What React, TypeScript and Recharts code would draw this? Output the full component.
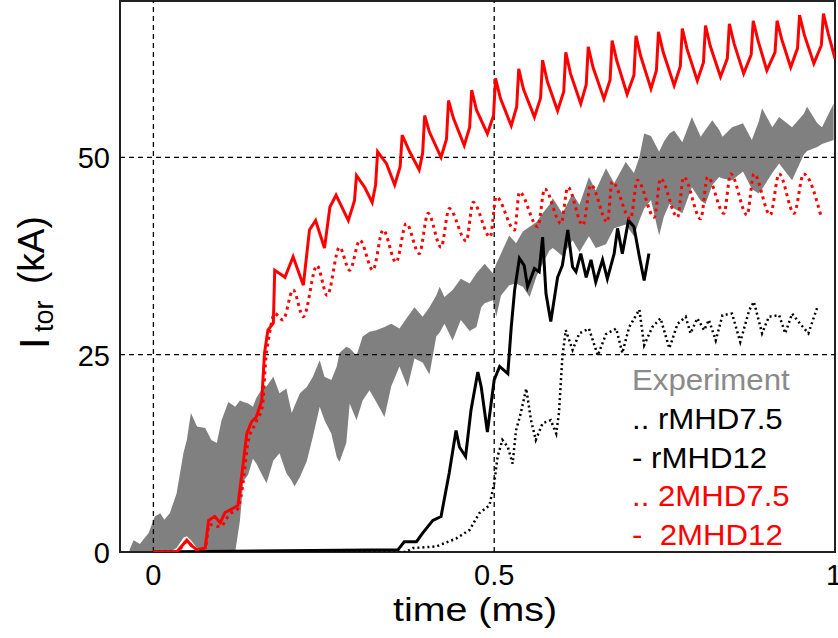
import {
    ComposedChart, Area, Line, XAxis, YAxis, ReferenceLine, ReferenceArea, Legend,
} from "recharts";

const FONT = "'Liberation Sans', Arial, sans-serif";

// experiment band: time, lower and upper edge
const EXP_T = [-0.035, -0.029, -0.02, -0.007, 0.002, 0.01, 0.016, 0.024, 0.034, 0.044, 0.049, 0.055, 0.064, 0.076, 0.085, 0.093, 0.1, 0.11, 0.12, 0.127, 0.132, 0.139, 0.146, 0.151, 0.158, 0.166, 0.176, 0.185, 0.195, 0.203, 0.207, 0.215, 0.225, 0.234, 0.244, 0.251, 0.261, 0.269, 0.273, 0.283, 0.288, 0.298, 0.307, 0.317, 0.327, 0.339, 0.349, 0.361, 0.373, 0.383, 0.395, 0.405, 0.415, 0.42, 0.427, 0.439, 0.451, 0.464, 0.474, 0.481, 0.486, 0.498, 0.503, 0.51, 0.522, 0.532, 0.542, 0.552, 0.562, 0.571, 0.581, 0.586, 0.6, 0.615, 0.625, 0.639, 0.649, 0.664, 0.676, 0.693, 0.705, 0.713, 0.72, 0.73, 0.742, 0.749, 0.757, 0.764, 0.776, 0.79, 0.803, 0.81, 0.82, 0.83, 0.835, 0.849, 0.865, 0.878, 0.888, 0.893, 0.908, 0.918, 0.937, 0.954, 0.959, 0.974, 0.981, 0.998];
const EXP_LOW = [0, 0, 0, 0, 0, 0, 0, 0, 0.5, 1.8, 2.0, 1.5, 0.5, 0, 0, 0, 0, 0, 0, 4, 9, 9.8, 11.8, 11.2, 10, 8.7, 11.6, 12.5, 10, 9, 8.3, 9.5, 11.5, 14.6, 18.4, 16.7, 15, 12, 11.4, 13.8, 18.8, 16.7, 19.2, 20.5, 19, 17.1, 21, 23.5, 20.9, 24.5, 24, 22.5, 27.3, 27.8, 28.9, 26.8, 29.4, 28, 28.5, 31, 31.5, 31.9, 29.8, 32.5, 33.8, 34, 33.6, 32.3, 34.9, 36.5, 38.2, 38.5, 37.5, 39.5, 38, 40, 38.5, 39, 41, 41.5, 40, 42, 43.5, 44.6, 40.1, 42.5, 44.1, 43.5, 42.9, 46.2, 44.5, 44.1, 46.5, 47.5, 47.3, 47.1, 48.2, 46, 45.4, 46, 48, 49.2, 47.1, 50.3, 50.8, 51.3, 51.7, 52.2];
const EXP_HIGH = [0.3, 1.5, 1.0, 2.4, 4.5, 4.9, 4.1, 4.9, 7.4, 12.5, 14.2, 17.6, 15.9, 15.7, 14.2, 13.8, 16.7, 19, 18.4, 19.2, 19.0, 18.8, 18.4, 19.5, 20.5, 21, 22.2, 20.1, 20.7, 17.6, 18.5, 20.1, 20.9, 22.2, 24.3, 22.2, 21.8, 23.5, 25.2, 26, 25.8, 24.9, 27.3, 27.9, 28.1, 28.5, 28.9, 28.3, 29.8, 31, 29.8, 31, 32.5, 33.6, 32.3, 33.2, 34.6, 34, 35.3, 36, 36.5, 35.3, 36.5, 37.8, 40.1, 39.1, 40.6, 41.2, 41.8, 42.9, 44, 44.8, 42.9, 45.4, 44, 47.5, 45.8, 48.6, 46.7, 49.4, 48, 50, 53, 52.7, 50.7, 52, 53, 53.4, 51.9, 55.1, 52.6, 53.5, 54.7, 53.5, 52.6, 53.8, 54.3, 52.2, 54.5, 56.2, 53.8, 55.1, 53.8, 55.5, 56.4, 54.3, 53.8, 56.8];

// [time, Itor] pairs
const RMHD75: [number, number][] = [
    [0, 0], [0.37, 0], [0.381, 0.5], [0.415, 0.7], [0.444, 1.7], [0.464, 2.8], [0.478, 4.9], [0.493, 5.9],
    [0.5, 8.7], [0.505, 12.1], [0.512, 14.2], [0.52, 13.3], [0.527, 11.2], [0.532, 15.4], [0.539, 17.6],
    [0.547, 20.7], [0.554, 16.7], [0.561, 14.2], [0.571, 16.3], [0.583, 16.7], [0.591, 15], [0.595, 17.6],
    [0.6, 24.7], [0.605, 28.1], [0.615, 25.6], [0.625, 27.7], [0.639, 28.3], [0.652, 24.9], [0.664, 27.6],
    [0.679, 28.3], [0.688, 25.2], [0.698, 28.5], [0.713, 30.7], [0.72, 26.2], [0.732, 28.5], [0.744, 29.6],
    [0.757, 25.8], [0.769, 28.9], [0.781, 29.8], [0.788, 27.7], [0.798, 29.6], [0.808, 28.1], [0.815, 29.4],
    [0.825, 26.8], [0.835, 30], [0.849, 30.2], [0.861, 26.6], [0.874, 30.6], [0.881, 31.7], [0.893, 27.7],
    [0.903, 29.8], [0.918, 30], [0.927, 27.7], [0.937, 30.2], [0.949, 28.9], [0.961, 27.7], [0.974, 31],
];

const RMHD12: [number, number][] = [
    [0, 0], [0.359, 0.3], [0.368, 1.3], [0.386, 1.3], [0.395, 2.4], [0.41, 4], [0.422, 4.5], [0.434, 10],
    [0.444, 15.4], [0.449, 13.3], [0.458, 12.1], [0.466, 18], [0.476, 22.8], [0.481, 20.9], [0.49, 15.2],
    [0.5, 21.8], [0.508, 23.5], [0.52, 22.6], [0.525, 28.5], [0.53, 33.2], [0.537, 37.2], [0.544, 36.3],
    [0.549, 33.6], [0.559, 35.9], [0.566, 35.5], [0.571, 39.9], [0.576, 32.7], [0.583, 29.2], [0.593, 34.8],
    [0.6, 36.3], [0.608, 40.8], [0.615, 36.1], [0.62, 35.5], [0.627, 37.8], [0.635, 34.8], [0.642, 37],
    [0.649, 34.2], [0.659, 37], [0.666, 34.6], [0.676, 37.8], [0.681, 41], [0.688, 37.8], [0.697, 42],
    [0.705, 41.2], [0.713, 37.4], [0.72, 34.4], [0.727, 37.8],
];

const MHD2_75: [number, number][] = [
    [0, 0], [0.034, 0], [0.049, 1.3], [0.064, 0.3], [0.076, 0.5], [0.082, 3.5], [0.098, 3.2], [0.112, 4.8],
    [0.124, 5.5], [0.132, 9], [0.139, 14], [0.151, 16.5], [0.16, 18.5], [0.165, 24.5], [0.17, 27.5],
    [0.178, 30.2], [0.19, 29.4], [0.205, 33.2], [0.22, 29.8], [0.24, 36.3], [0.255, 32.5], [0.273, 38.6],
    [0.288, 35.7], [0.303, 39.5], [0.322, 35.7], [0.337, 40.8], [0.356, 36.7], [0.371, 41.6], [0.39, 37.8],
    [0.403, 42.9], [0.422, 38.6], [0.434, 43.5], [0.459, 39.4], [0.469, 44.3], [0.494, 39.9], [0.503, 45],
    [0.53, 40.8], [0.537, 45.6], [0.564, 41.2], [0.574, 46], [0.598, 41.6], [0.608, 46.2], [0.63, 41.4],
    [0.642, 46.5], [0.666, 41.8], [0.673, 46.9], [0.7, 42.2], [0.71, 47.1], [0.735, 42.4], [0.744, 47.3],
    [0.769, 42.4], [0.778, 47.5], [0.803, 42.2], [0.813, 47.5], [0.837, 42.9], [0.847, 47.9], [0.871, 42.7],
    [0.881, 47.9], [0.905, 42.7], [0.918, 47.9], [0.94, 42.9], [0.954, 47.9], [0.979, 42.7],
];

const MHD2_12: [number, number][] = [
    [0, 0], [0.034, 0], [0.042, 0.8], [0.049, 1.5], [0.056, 0.8], [0.064, 0.3], [0.076, 0.5], [0.081, 4.0],
    [0.09, 4.5], [0.098, 3.7], [0.105, 5], [0.112, 5.3], [0.124, 5.9], [0.13, 10], [0.137, 15], [0.144, 16.5],
    [0.151, 17.1], [0.159, 19.2], [0.163, 25.2], [0.168, 28.1], [0.176, 29], [0.178, 35.7], [0.19, 35],
    [0.193, 34.8], [0.205, 37.4], [0.22, 33.8], [0.229, 40.8], [0.238, 42], [0.251, 38.5], [0.259, 43.7],
    [0.268, 45.2], [0.286, 42], [0.295, 44.5], [0.298, 47.7], [0.31, 46.2], [0.321, 44.3], [0.326, 46.5],
    [0.329, 50.7], [0.342, 49.2], [0.354, 46.5], [0.362, 48.8], [0.365, 52.8], [0.376, 50.7], [0.39, 48.4],
    [0.395, 50.5], [0.398, 55.3], [0.405, 53.2], [0.422, 50], [0.43, 52.3], [0.433, 57.2], [0.44, 55],
    [0.456, 51.5], [0.464, 53.8], [0.467, 58.5], [0.474, 56], [0.49, 53], [0.499, 55.3], [0.502, 60],
    [0.509, 57.5], [0.525, 54], [0.533, 56.4], [0.536, 61.2], [0.543, 58.6], [0.559, 55.1], [0.568, 57.5],
    [0.571, 62.3], [0.578, 59.6], [0.593, 55.9], [0.602, 58.3], [0.605, 63.3], [0.612, 60.6], [0.627, 56.8],
    [0.635, 59.2], [0.638, 64], [0.645, 61.4], [0.661, 57.4], [0.67, 59.8], [0.673, 64.8], [0.68, 62.2],
    [0.695, 58], [0.705, 60.4], [0.708, 65.4], [0.715, 62.8], [0.73, 58.7], [0.738, 61], [0.741, 65.9],
    [0.748, 63.3], [0.764, 59.1], [0.773, 61.5], [0.776, 66.3], [0.783, 63.7], [0.798, 59.7], [0.807, 62],
    [0.81, 66.7], [0.817, 64.1], [0.832, 60.2], [0.842, 62.5], [0.845, 66.9], [0.852, 64.4], [0.866, 60.6],
    [0.877, 63], [0.88, 67.3], [0.887, 64.8], [0.9, 61], [0.912, 63.3], [0.915, 67.3], [0.922, 64.9],
    [0.935, 61.4], [0.945, 63.8], [0.948, 68], [0.955, 65.5], [0.969, 61.9], [0.98, 64.2], [0.983, 68.2],
    [0.99, 65.7], [1.0, 62.5],
];

const X_DOMAIN = [-0.049, 1];
const Y_DOMAIN = [0, 69.8];
const X_TICKS = [0, 0.5, 1];
const Y_TICKS = [0, 25, 50];

const LEGEND_ITEMS = [
    { label: "Experiment", color: "#8a8a8a" },
    { label: ".. rMHD7.5", color: "#000" },
    { label: "- rMHD12", color: "#000" },
    { label: ".. 2MHD7.5", color: "#ff0000" },
    { label: "-  2MHD12", color: "#ff0000" },
];

const expData = EXP_T.map((t, i) => ({ t, exp: [EXP_LOW[i], EXP_HIGH[i]] }));
const toRows = (pairs: [number, number][]) => pairs.map(([t, v]) => ({ t, v }));

const XTick = ({ x, payload }: any) => (
    <text x={x} y={585} textAnchor="middle" fontSize={29} fontFamily={FONT} fill="#000">
        {String(payload.value)}
    </text>
);

const YTick = ({ y, payload }: any) => (
    <text x={110} y={y + 11} textAnchor="end" fontSize={29} fontFamily={FONT} fill="#000">
        {String(payload.value)}
    </text>
);

const XLabel = () => (
    <text x={475} y={621} textAnchor="middle" fontSize={34} fontFamily={FONT} fill="#000"
          textLength={164} lengthAdjust="spacingAndGlyphs">
        time (ms)
    </text>
);

const YLabel = () => (
    <g fontFamily={FONT} fill="#000">
        <text x={49} y={349} fontSize={42} transform="rotate(-90 49 349)">I</text>
        <text x={53} y={332} fontSize={27} transform="rotate(-90 53 332)">tor</text>
        <text x={44} y={284} fontSize={37} transform="rotate(-90 44 284)">(kA)</text>
    </g>
);

const LegendBox = () => (
    <div style={{
        fontFamily: FONT, fontSize: 29, lineHeight: "38.75px", whiteSpace: "pre",
        transform: "scale(1.075, 1)", transformOrigin: "left top",
    }}>
        {LEGEND_ITEMS.map((it) => (
            <div key={it.label} style={{ color: it.color }}>{it.label}</div>
        ))}
    </div>
);

export default function App() {
    return (
        <div style={{ position: "absolute", left: 0, top: 0, background: "#fff" }}>
            <ComposedChart width={838} height={638} margin={{ top: 1, right: 3, bottom: 0, left: 0 }}>
                <XAxis
                    dataKey="t"
                    type="number"
                    domain={X_DOMAIN}
                    ticks={X_TICKS}
                    allowDataOverflow
                    height={86}
                    axisLine={false}
                    tickLine={false}
                    tick={<XTick />}
                    label={<XLabel />}
                />
                <YAxis
                    type="number"
                    domain={Y_DOMAIN}
                    ticks={Y_TICKS}
                    allowDataOverflow
                    width={120}
                    axisLine={false}
                    tickLine={false}
                    tick={<YTick />}
                    label={<YLabel />}
                />
                {X_TICKS.slice(0, 2).map((v) => (
                    <ReferenceLine key={"x" + v} x={v} stroke="#000" strokeDasharray="5 4" strokeWidth={1.3} />
                ))}
                {Y_TICKS.slice(1).map((v) => (
                    <ReferenceLine key={"y" + v} y={v} stroke="#000" strokeDasharray="5 4" strokeWidth={1.3} />
                ))}
                <Area data={expData} dataKey="exp" type="linear" fill="#808080" fillOpacity={1}
                      stroke="none" isAnimationActive={false} />
                <Line data={toRows(RMHD75)} dataKey="v" type="linear" stroke="#000" strokeWidth={2.5}
                      strokeDasharray="2 3" dot={false} isAnimationActive={false} />
                <Line data={toRows(RMHD12)} dataKey="v" type="linear" stroke="#000" strokeWidth={3}
                      dot={false} isAnimationActive={false} />
                <Line data={toRows(MHD2_75)} dataKey="v" type="monotone" stroke="#ff0000" strokeWidth={3}
                      strokeDasharray="3 4" dot={false} isAnimationActive={false} />
                <Line data={toRows(MHD2_12)} dataKey="v" type="linear" stroke="#ff0000" strokeWidth={3}
                      dot={false} isAnimationActive={false} />
                <ReferenceArea x1={X_DOMAIN[0]} x2={X_DOMAIN[1]} y1={Y_DOMAIN[0]} y2={Y_DOMAIN[1]}
                               fill="none" fillOpacity={0} stroke="#222" strokeWidth={2} />
                <Legend
                    layout="vertical"
                    align="center"
                    verticalAlign="middle"
                    content={<LegendBox />}
                    wrapperStyle={{ left: 632, top: 361, width: "auto" }}
                />
            </ComposedChart>
        </div>
    );
}
